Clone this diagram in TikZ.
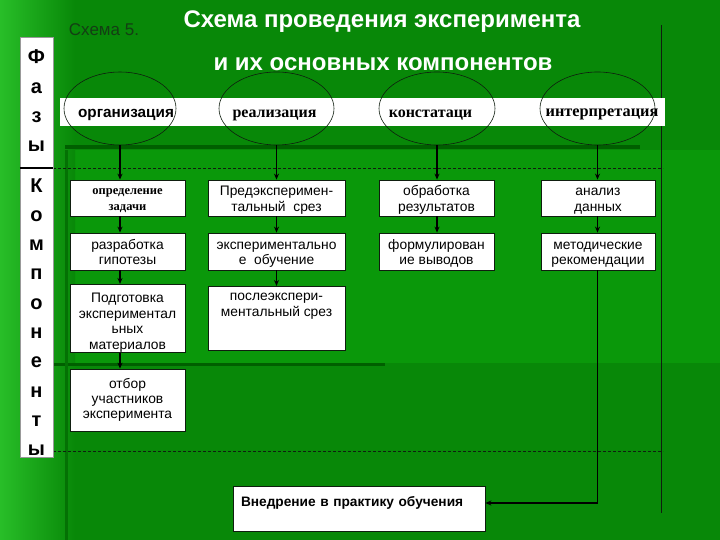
\documentclass[tikz,border=0pt]{standalone}
\usepackage{fontspec}
\setmainfont{Liberation Sans}
\newfontfamily\serifbold{Liberation Serif}
\usetikzlibrary{arrows.meta,shapes.geometric}
\definecolor{bgmain}{RGB}{8,136,8}
\definecolor{bgband}{RGB}{10,152,10}
\definecolor{bgleft}{RGB}{40,190,40}
\definecolor{bgdark}{RGB}{0,95,0}
\definecolor{schemagreen}{RGB}{20,62,20}
\definecolor{linedark}{RGB}{15,30,15}
\newcommand\bxfont{\fontsize{13.8}{15.7}\selectfont}
\newcommand\fst{\rule{0pt}{14.2pt}}
\newcommand\lst{\rule[-3pt]{0pt}{3pt}}
\tikzset{
  box/.style={rectangle, draw=linedark, line width=0.8pt, fill=white, inner sep=0pt, align=center, font=\bxfont},
  ell/.style={ellipse, draw=linedark, line width=0.6pt, inner sep=0pt, minimum width=112pt, minimum height=73pt},
  arr/.style={draw=black, line width=1.1pt, -{Stealth[length=6pt,width=5pt]}},
  dashline/.style={draw=linedark, line width=0.6pt, dash pattern=on 3pt off 2pt},
  strip/.style={rectangle, fill=white, draw=black!40, line width=0.4pt, inner sep=0pt, minimum width=33pt},
  phs/.style={font=\fontsize{15.3}{15}\selectfont\bfseries, text=black, inner sep=0pt, anchor=base},
  phserif/.style={font=\fontsize{16}{16}\selectfont\serifbold\bfseries, text=black, inner sep=0pt, anchor=base},
  title/.style={font=\fontsize{24}{24}\selectfont\bfseries, text=white, inner sep=0pt, anchor=base},
  letters/.style={font=\fontsize{20}{29.3}\selectfont\bfseries, align=center, inner sep=0pt}
}
\begin{document}
\begin{tikzpicture}[x=1pt,y=-1pt]
% background
\fill[bgmain] (0,0) rectangle (720,540);
\useasboundingbox (0,0) rectangle (720,540);
\fill[bgband] (53,150) rectangle (720,363);
\shade[left color=bgleft, right color=bgmain] (0,0) rectangle (75,540);
\fill[bgdark] (65,145) rectangle (640,149);
\fill[bgdark] (53,363) rectangle (385,366);
\fill[bgdark!55!bgmain] (65,150) rectangle (68,540);

% titles
\node[title] (t1) at (382,27.5) {Схема проведения эксперимента};
\node[title] (t2) at (383,70.5) {и их основных компонентов};
\node[font=\fontsize{17}{17}\selectfont, text=schemagreen, inner sep=0pt, anchor=base] (s5) at (104,36) {Схема 5.};

% dashed and vertical lines
\coordinate (d1l) at (53,168);
\coordinate (d1r) at (663,168);
\coordinate (d2l) at (53,451);
\coordinate (d2r) at (663,451);
\coordinate (vt) at (661,25);
\coordinate (vb) at (661,513);
\draw[dashline] (d1l) -- (d1r);
\draw[dashline] (d2l) -- (d2r);
\draw[draw=linedark, line width=0.8pt] (vt) -- (vb);

% left strip
\node[strip, minimum height=131pt] (fz) at (36.5,102.5) {};
\node[strip, minimum height=289pt] (km) at (36.5,312.5) {};
\draw[black, line width=1.4pt] (fz.south west) -- (fz.south east);
\node[letters] (fzt) at (36.5,101) {Ф\\а\\з\\ы};
\node[letters] (kmt) at (36.5,317) {К\\о\\м\\п\\о\\н\\е\\н\\т\\ы};

% phase bar
\node[rectangle, fill=white, inner sep=0pt, minimum width=605pt, minimum height=28pt] (bar) at (362.5,112) {};
\node[ell] (e1) at (120,108.5) {};
\node[ell, minimum width=115pt] (e2) at (276.5,108.5) {};
\node[ell, minimum width=116pt] (e3) at (437,108.5) {};
\node[ell, minimum width=115pt] (e4) at (597.5,108.5) {};
\node[phs] (p1) at (126,118) {организация};
\node[phserif] (p2) at (274.5,118) {реализация};
\node[phserif] (p3) at (430.5,118) {констатаци};
\node[phserif, font=\fontsize{16.3}{16}\selectfont\serifbold\bfseries] (p4) at (602,117) {интерпретация};

% component boxes
\node[box, minimum width=115pt, minimum height=36pt, font=\fontsize{12.5}{15.7}\selectfont\serifbold\bfseries] (c1a) at (127.5,198) {\rule{0pt}{12.6pt}определение\\задачи\lst};
\node[box, minimum width=115pt, minimum height=37pt] (c1b) at (127.5,251.5) {\fst разработка\\гипотезы\lst};
\node[box, minimum width=115pt, minimum height=63pt] (c1c) at (127.5,318.5) {\rule{0pt}{18.2pt}Подготовка\\экспериментал\\ьных\\материалов\lst};
\node[box, minimum width=115pt, minimum height=62pt, font=\fontsize{13.8}{15}\selectfont] (c1d) at (127.5,400) {отбор\\участников\\эксперимента\lst};

\node[box, minimum width=137pt, minimum height=36pt] (c2a) at (276.5,198) {\fst Предэксперимен-\\тальный\ \ срез\lst};
\node[box, minimum width=137pt, minimum height=37pt] (c2b) at (276.5,251.5) {\fst экспериментально\\е\ \ обучение\lst};
\node[box, minimum width=137pt, minimum height=63pt] (c2c) at (276.5,318.5) {\fst послеэкспери-\\ментальный срез\\\mbox{}\\\mbox{}\lst};

\node[box, minimum width=115pt, minimum height=36pt] (c3a) at (436.5,198) {\fst обработка\\результатов\lst};
\node[box, minimum width=115pt, minimum height=37pt] (c3b) at (436.5,251.5) {\fst формулирован\\ие выводов\lst};

\node[box, minimum width=114pt, minimum height=36pt] (c4a) at (598,198) {\fst анализ\\данных\lst};
\node[box, minimum width=114pt, minimum height=37pt] (c4b) at (598,251.5) {\fst методические\\рекомендации\lst};

\node[box, minimum width=252pt, minimum height=45pt, text width=236pt, align=left, font=\fontsize{13.7}{15.7}\selectfont\bfseries] (impl) at (359,508.5) {\fst Внедрение в практику обучения\\\mbox{}\lst};

% arrows
\draw[arr] (e1.south) -- (c1a.north -| e1.south);
\draw[arr] (c1a.south -| e1.south) -- (c1b.north -| e1.south);
\draw[arr] (c1b.south -| e1.south) -- (c1c.north -| e1.south);
\draw[arr] (c1c.south -| e1.south) -- (c1d.north -| e1.south);
\draw[arr] (e2.south) -- (c2a.north -| e2.south);
\draw[arr] (c2a.south -| e2.south) -- (c2b.north -| e2.south);
\draw[arr] (c2b.south -| e2.south) -- (c2c.north -| e2.south);
\draw[arr] (e3.south) -- (c3a.north -| e3.south);
\draw[arr] (c3a.south -| e3.south) -- (c3b.north -| e3.south);
\draw[arr] (e4.south) -- (c4a.north -| e4.south);
\draw[arr] (c4a.south -| e4.south) -- (c4b.north -| e4.south);
\draw[arr] (c4b.south -| e4.south) |- ([yshift=5.5pt]impl.east);
\end{tikzpicture}
\end{document}
